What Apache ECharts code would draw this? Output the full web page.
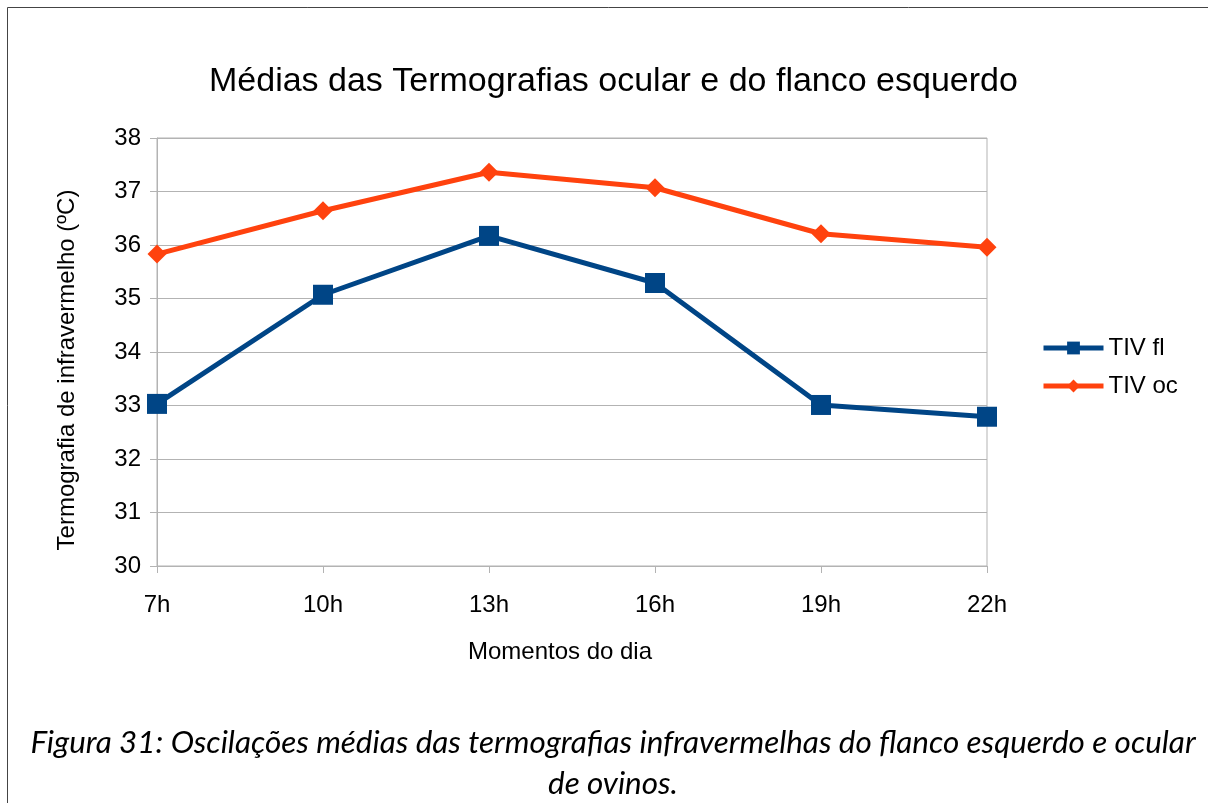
<!DOCTYPE html>
<html>
<head>
<meta charset="utf-8">
<script src="https://cdn.jsdelivr.net/npm/echarts@6/dist/echarts.min.js"></script>
<style>
  html, body { margin: 0; padding: 0; background: #fff; }
  #chart { width: 1208px; height: 803px; }
</style>
</head>
<body>
<div id="chart"></div>
<script>
// momentos do dia
const hours = ['7h', '10h', '13h', '16h', '19h', '22h']
// medias (ºC)
const tivFl = [33.03, 35.07, 36.17, 35.29, 33.01, 32.79]
const tivOc = [35.83, 36.64, 37.36, 37.07, 36.21, 35.96]

const chart = echarts.init(document.getElementById('chart'))
const gridColor = '#b3b3b3'
const font = '"Liberation Sans", Arial, sans-serif'

chart.setOption({
  animation: false,
  backgroundColor: '#fff',
  title: {
    text: 'Médias das Termografias ocular e do flanco esquerdo',
    left: 204,
    top: 60,
    textStyle: { fontFamily: font, fontSize: 34, fontWeight: 'normal', color: '#000' }
  },
  graphic: [{
    type: 'rect',
    shape: { x: 7.5, y: 7.5, width: 1220, height: 820 },
    style: { fill: 'none', stroke: '#444', lineWidth: 1 },
    silent: true
  }, {
    // titulo do eixo y
    type: 'text',
    x: 67,
    y: 370,
    rotation: Math.PI / 2,
    style: {
      text: 'Termografia de infravermelho (ºC)',
      font: '24px ' + font,
      fill: '#000',
      align: 'center',
      verticalAlign: 'middle'
    }
  }, {
    // legenda da figura
    type: 'text',
    x: 613,
    y: 763,
    style: {
      text: 'Figura 31: Oscilações médias das termografias infravermelhas do flanco esquerdo e ocular\nde ovinos.',
      font: 'italic 31.4px Lato, "Open Sans", sans-serif',
      fill: '#000',
      align: 'center',
      verticalAlign: 'middle',
      lineHeight: 41
    }
  }],
  legend: {
    orient: 'vertical',
    left: 1036,
    top: 331,
    itemWidth: 60,
    itemHeight: 16,
    itemGap: 14,
    lineStyle: { width: 5 },
    textStyle: { fontFamily: font, fontSize: 24, color: '#000' },
    data: ['TIV fl', 'TIV oc']
  },
  grid: {
    left: 157,
    right: 221,
    top: 138,
    bottom: 237,
    show: true,
    borderColor: gridColor,
    borderWidth: 1
  },
  xAxis: {
    type: 'category',
    data: hours,
    boundaryGap: false,
    name: 'Momentos do dia',
    nameLocation: 'middle',
    nameGap: 74,
    nameTextStyle: { fontFamily: font, fontSize: 24, color: '#000', padding: [0, 24, 0, 0] },
    axisLine: { lineStyle: { color: gridColor } },
    axisTick: { show: true, length: 7, lineStyle: { color: gridColor } },
    axisLabel: { margin: 27, fontFamily: font, fontSize: 24, color: '#000' },
    splitLine: { show: false }
  },
  yAxis: {
    type: 'value',
    min: 30,
    max: 38,
    interval: 1,
    axisLine: { show: true, lineStyle: { color: gridColor } },
    axisTick: { show: true, length: 7, lineStyle: { color: gridColor } },
    axisLabel: { margin: 16, fontFamily: font, fontSize: 24, color: '#000' },
    splitLine: { lineStyle: { color: gridColor } }
  },
  series: [{
    name: 'TIV fl',
    type: 'line',
    data: tivFl,
    symbol: 'rect',
    symbolSize: 20,
    lineStyle: { color: '#004586', width: 5 },
    itemStyle: { color: '#004586' }
  }, {
    name: 'TIV oc',
    type: 'line',
    data: tivOc,
    symbol: 'diamond',
    symbolSize: 19,
    lineStyle: { color: '#ff420e', width: 5 },
    itemStyle: { color: '#ff420e' }
  }]
})
</script>
</body>
</html>
